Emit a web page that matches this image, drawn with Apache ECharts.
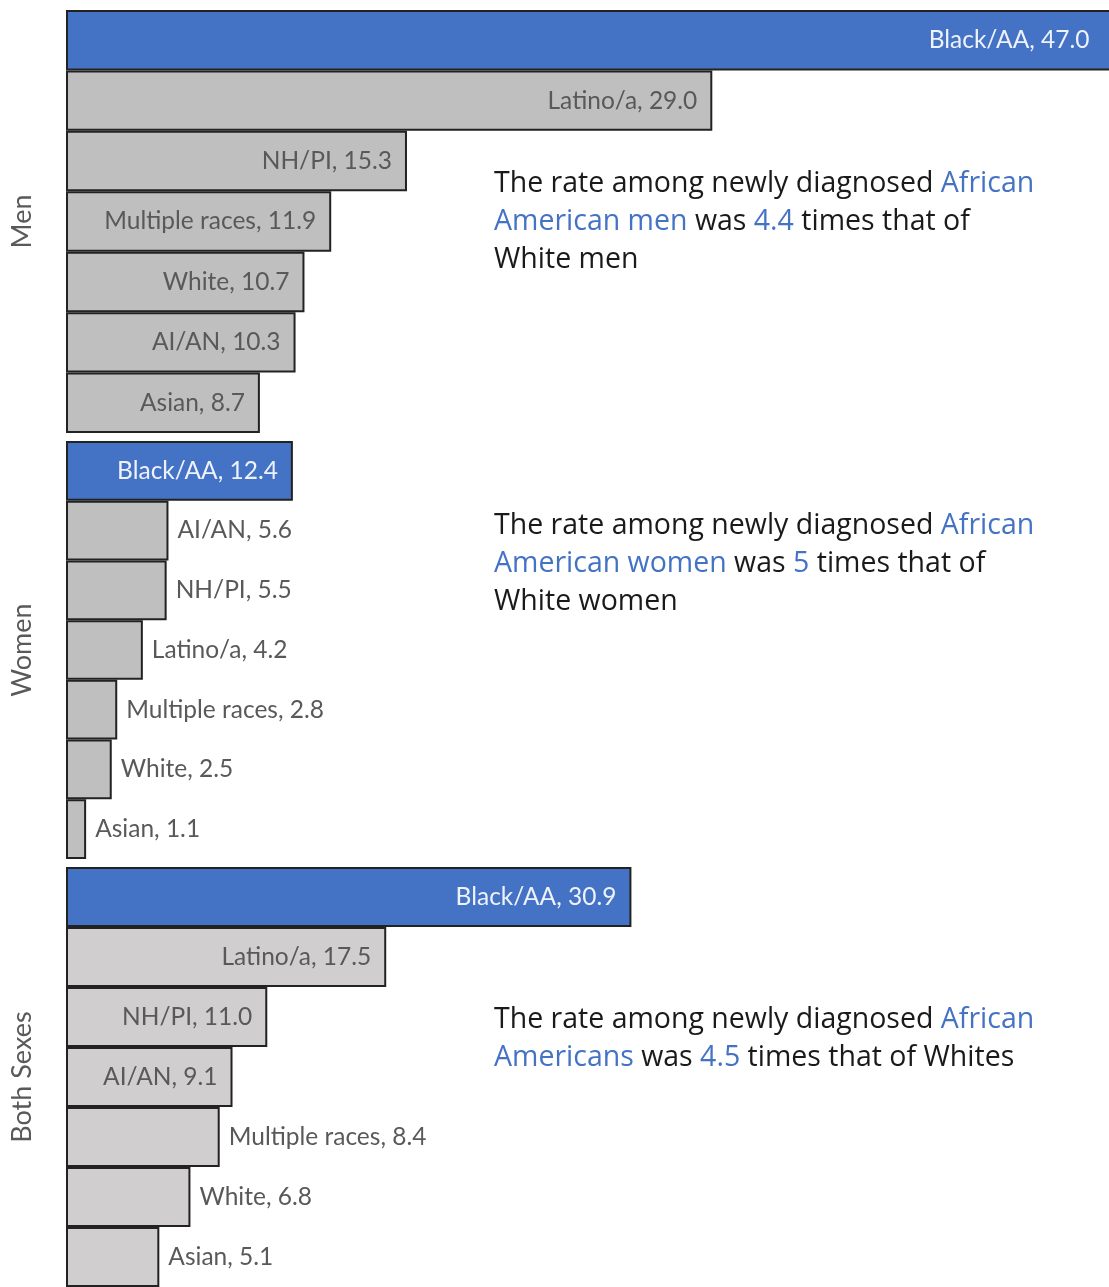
<!DOCTYPE html>
<html>
<head>
<meta charset="utf-8">
<script src="https://cdn.jsdelivr.net/npm/echarts@6/dist/echarts.min.js"></script>
<style>
  html, body { margin: 0; padding: 0; background: #fff; }
  #chart { width: 1109px; height: 1287px; }
</style>
</head>
<body>
<div id="chart"></div>
<script>
(function () {
    var chart = echarts.init(document.getElementById('chart'));

    // data
    var groupNames = ['Men', 'Women', 'Both Sexes'];
    var menCats = ['Black/AA', 'Latino/a', 'NH/PI', 'Multiple races', 'White', 'AI/AN', 'Asian'];
    var menVals = [47.0, 29.0, 15.3, 11.9, 10.7, 10.3, 8.7];
    var womenCats = ['Black/AA', 'AI/AN', 'NH/PI', 'Latino/a', 'Multiple races', 'White', 'Asian'];
    var womenVals = [12.4, 5.6, 5.5, 4.2, 2.8, 2.5, 1.1];
    var bothCats = ['Black/AA', 'Latino/a', 'NH/PI', 'AI/AN', 'Multiple races', 'White', 'Asian'];
    var bothVals = [30.9, 17.5, 11.0, 9.1, 8.4, 6.8, 5.1];

    var blue = '#4472C4';
    var textGray = '#595959';
    var font = 'Lato, "Open Sans", sans-serif';
    var noteFont = '"Open Sans", Lato, sans-serif';

    var panels = [
        { cats: menCats, vals: menVals, top: 10, height: 423, max: 46.8, minInside: 8, gray: '#BFBFBF' },
        { cats: womenCats, vals: womenVals, top: 441, height: 418, max: 57, minInside: 9, gray: '#BFBFBF' },
        { cats: bothCats, vals: bothVals, top: 867, height: 420, max: 57, minInside: 9, gray: '#D0CECE' }
    ];

    var grid = [], xAxis = [], yAxis = [], series = [];
    panels.forEach(function (p, i) {
        grid.push({ left: 66, width: 1043, top: p.top, height: p.height });
        xAxis.push({
            type: 'value', gridIndex: i, min: 0, max: p.max, show: false
        });
        yAxis.push({
            type: 'category', gridIndex: i, inverse: true, data: p.cats,
            name: groupNames[i],
            nameLocation: 'middle',
            nameGap: 30,
            nameTextStyle: { color: textGray, fontSize: 27, fontFamily: font },
            axisLine: { show: false },
            axisTick: { show: false },
            axisLabel: { show: false }
        });
        var data = p.vals.map(function (v, j) {
            var isBlack = j === 0;
            var inside = v >= p.minInside;
            return {
                value: v,
                itemStyle: { color: isBlack ? blue : p.gray },
                label: {
                    position: inside ? 'insideRight' : 'right',
                    distance: inside ? (isBlack && i === 0 ? 24 : 15) : 9,
                    color: isBlack ? '#EEF2FA' : textGray
                }
            };
        });
        series.push({
            type: 'bar',
            xAxisIndex: i,
            yAxisIndex: i,
            barCategoryGap: 0,
            clip: false,
            itemStyle: { borderColor: '#222', borderWidth: 2 },
            label: {
                show: true,
                fontFamily: font,
                fontSize: 24.5,
                formatter: function (params) {
                    return params.name + ', ' + params.value.toFixed(1);
                }
            },
            data: data
        });
    });

    var rich = {
        k: { fill: '#1a1a1a', fontSize: 28.5, fontFamily: noteFont, lineHeight: 38 },
        b: { fill: blue, fontSize: 28.5, fontFamily: noteFont, lineHeight: 38 }
    };
    function note(top, text) {
        return {
            type: 'text', left: 494, top: top,
            style: { text: text, rich: rich }
        };
    }

    var option = {
        backgroundColor: '#fff',
        animation: false,
        grid: grid,
        xAxis: xAxis,
        yAxis: yAxis,
        series: series,
        graphic: [
            note(169, '{k|The rate among newly diagnosed }{b|African}\n{b|American men}{k| was }{b|4.4}{k| times that of}\n{k|White men}'),
            note(511, '{k|The rate among newly diagnosed }{b|African}\n{b|American women}{k| was }{b|5}{k| times that of}\n{k|White women}'),
            note(1005, '{k|The rate among newly diagnosed }{b|African}\n{b|Americans}{k| was }{b|4.5}{k| times that of Whites}')
        ]
    };

    chart.setOption(option);
})();
</script>
</body>
</html>
